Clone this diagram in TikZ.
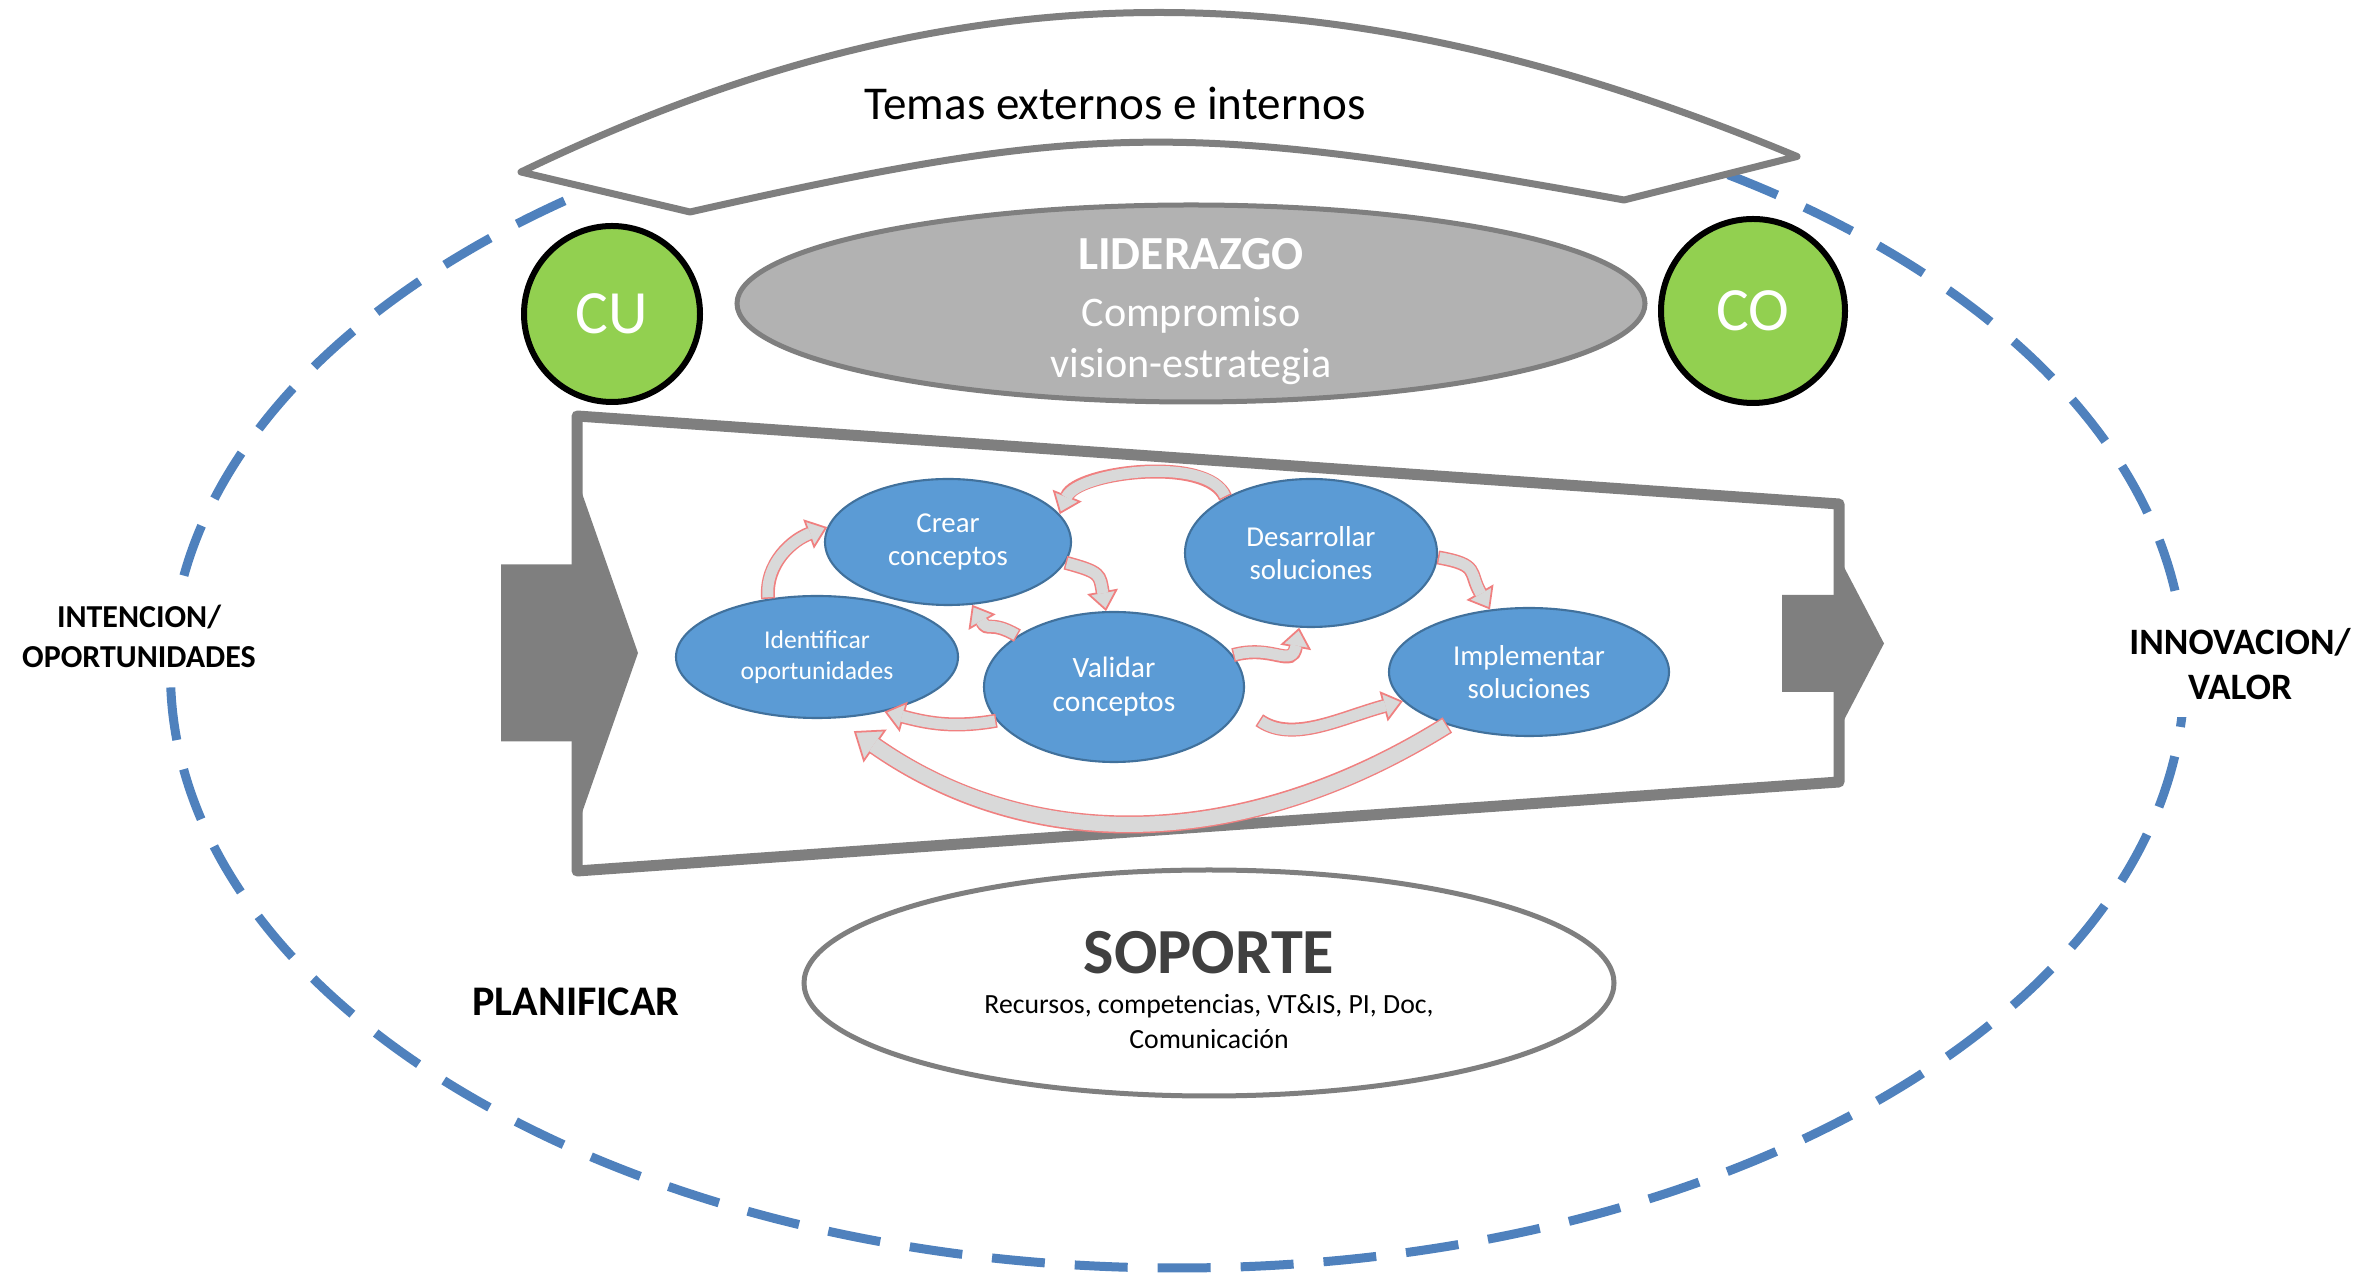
\documentclass[tikz,border=0pt]{standalone}
\usepackage{fontspec}
\setmainfont{Carlito}
\usetikzlibrary{shapes.geometric,arrows.meta}

\definecolor{ringblue}{HTML}{4F81BD}
\definecolor{framegray}{HTML}{7F7F7F}
\definecolor{leafgreen}{HTML}{92D050}
\definecolor{leadgray}{HTML}{B2B2B2}
\definecolor{procblue}{HTML}{5B9BD5}
\definecolor{procline}{HTML}{41719C}
\definecolor{loopfill}{HTML}{D9D9D9}
\definecolor{loopline}{HTML}{F08080}
\definecolor{darktext}{HTML}{404040}

\tikzset{
  procnode/.style={ellipse, draw=procline, line width=0.6pt, fill=procblue, text=white,
    align=center, inner sep=0pt, font=\fontsize{8.2}{9.4}\selectfont},
  clientnode/.style={circle, draw=black, line width=0.06cm, fill=leafgreen, text=white,
    inner sep=0pt, font=\fontsize{17.5}{20}\selectfont},
  loopedge/.style={line width=0.14cm, draw=loopline,
    -{Triangle[length=0.2cm, width=0.31cm, fill=loopfill, line width=0.5pt]}},
  loopinner/.style={line width=0.11cm, draw=loopfill, shorten <=0.015cm, shorten >=0.18cm},
  sidelabel/.style={fill=white, inner xsep=2pt, inner ysep=5pt, align=center},
}

\begin{document}
\begin{tikzpicture}
  \useasboundingbox (0,0) rectangle (23.67,-12.83);

  % outer dashed ring
  \draw[ringblue, line width=0.09cm, dash pattern=on 0.53cm off 0.3cm] (11.775,-6.73) ellipse (10.07cm and 5.95cm);

  % banner on top
  \draw[framegray, line width=0.07cm, line join=round, fill=white] (5.21,-1.72) .. controls (9.57,0.38) and (13.30,0.38) .. (17.97,-1.565)
    -- (16.24,-2.00) .. controls (11.87,-1.21) and (10.93,-1.21) .. (6.90,-2.12) -- cycle;
  \node[font=\fontsize{13.4}{16}\selectfont, anchor=base] (temas) at (11.15,-1.20) {Temas externos e internos};

  \node[clientnode, minimum size=1.76cm] (cu) at (6.12,-3.14) {CU};
  \node[clientnode, minimum size=1.84cm] (co) at (17.53,-3.11) {CO};
  \node[ellipse, draw=framegray, line width=0.05cm, fill=leadgray, minimum width=9.08cm, minimum height=1.97cm] (lider) at (11.91,-3.035) {};
  \node[text=white, align=center, font=\fontsize{12}{14.5}\selectfont] (lidertext) at ([yshift=-0.08cm]lider.center)
    {{\fontsize{13.5}{14.5}\selectfont\bfseries LIDERAZGO}\\[1.5pt]Compromiso\\vision-estrategia};

  % process frame and its two arrows
  \draw[framegray, line width=0.11cm, line join=round, fill=white] (5.77,-4.16) -- (18.39,-5.04) -- (18.39,-7.82) -- (5.77,-8.71) -- cycle;
  \fill[framegray] (5.01,-5.645) -- (5.77,-5.645) -- (5.77,-4.79) -- (6.38,-6.53) -- (5.77,-8.27) -- (5.77,-7.415) -- (5.01,-7.415) -- cycle;
  \fill[framegray] (17.82,-5.95) -- (18.39,-5.95) -- (18.39,-5.575) -- (18.84,-6.435) -- (18.39,-7.295) -- (18.39,-6.92) -- (17.82,-6.92) -- cycle;

  \node[procnode, minimum width=2.82cm, minimum height=1.22cm, font=\fontsize{7.3}{8.8}\selectfont] (ident) at (8.17,-6.57) {Identificar\\oportunidades};
  \node[procnode, minimum width=2.46cm, minimum height=1.26cm] (crear) at (9.48,-5.42) {Crear\\conceptos};
  \node[procnode, minimum width=2.60cm, minimum height=1.50cm, font=\fontsize{8.4}{9.6}\selectfont] (valid) at (11.14,-6.87) {Validar\\conceptos};
  \node[procnode, minimum width=2.52cm, minimum height=1.48cm] (desar) at (13.11,-5.53) {Desarrollar\\soluciones};
  \node[procnode, minimum width=2.80cm, minimum height=1.28cm] (implem) at (15.29,-6.72) {Implementar\\soluciones};

  % loop arrows
  \foreach \a/\b/\o/\i/\l in {ident.130/crear.173/95/200/1, crear.-10/valid.96/-15/100/1.5, valid.152/crear.-69/150/-60/1.5,
      desar.147/crear.14/112/68/0.7, valid.15/desar.-99/15/-100/1.5, desar.-2/implem.122/-10/120/1.5, valid.196/ident.-39/190/-15/1} {
    \draw[loopedge] (\a) to[out=\o, in=\i, looseness=\l] (\b);
    \draw[loopinner] (\a) to[out=\o, in=\i, looseness=\l] (\b);
  }
  \draw[loopedge, shorten <=0.23cm] (valid.-9) to[out=-35, in=195] (implem.193);
  \draw[loopinner, shorten <=0.245cm] (valid.-9) to[out=-35, in=195] (implem.193);
  \draw[loopedge, line width=0.18cm, shorten >=0.22cm, -{Triangle[length=0.26cm, width=0.40cm, fill=loopfill, line width=0.5pt]}]
    (implem.213) to[out=212, in=-35] (ident.-73);
  \draw[loopinner, line width=0.15cm, shorten >=0.46cm] (implem.213) to[out=212, in=-35] (ident.-73);

  % support
  \node[ellipse, draw=framegray, line width=0.05cm, fill=white, minimum width=8.10cm, minimum height=2.26cm] (soporte) at (12.09,-9.83) {};
  \node[align=center, font=\fontsize{7.9}{10}\selectfont] (soportetext) at ([yshift=-0.07cm]soporte.center)
    {\textcolor{darktext}{\fontsize{18.3}{19}\selectfont\bfseries SOPORTE}\\[1.2pt]Recursos, competencias, VT\&IS, PI, Doc,\\Comunicación};

  % side labels
  \node[sidelabel, font=\fontsize{9.1}{11.4}\selectfont\bfseries] (intencion) at (1.39,-6.36) {INTENCION/\\OPORTUNIDADES};
  \node[sidelabel, font=\fontsize{10.6}{12.8}\selectfont\bfseries] (innovacion) at (22.40,-6.64) {INNOVACION/\\VALOR};
  \node[font=\fontsize{12}{14}\selectfont\bfseries] (planificar) at (5.76,-10.02) {PLANIFICAR};
\end{tikzpicture}
\end{document}
